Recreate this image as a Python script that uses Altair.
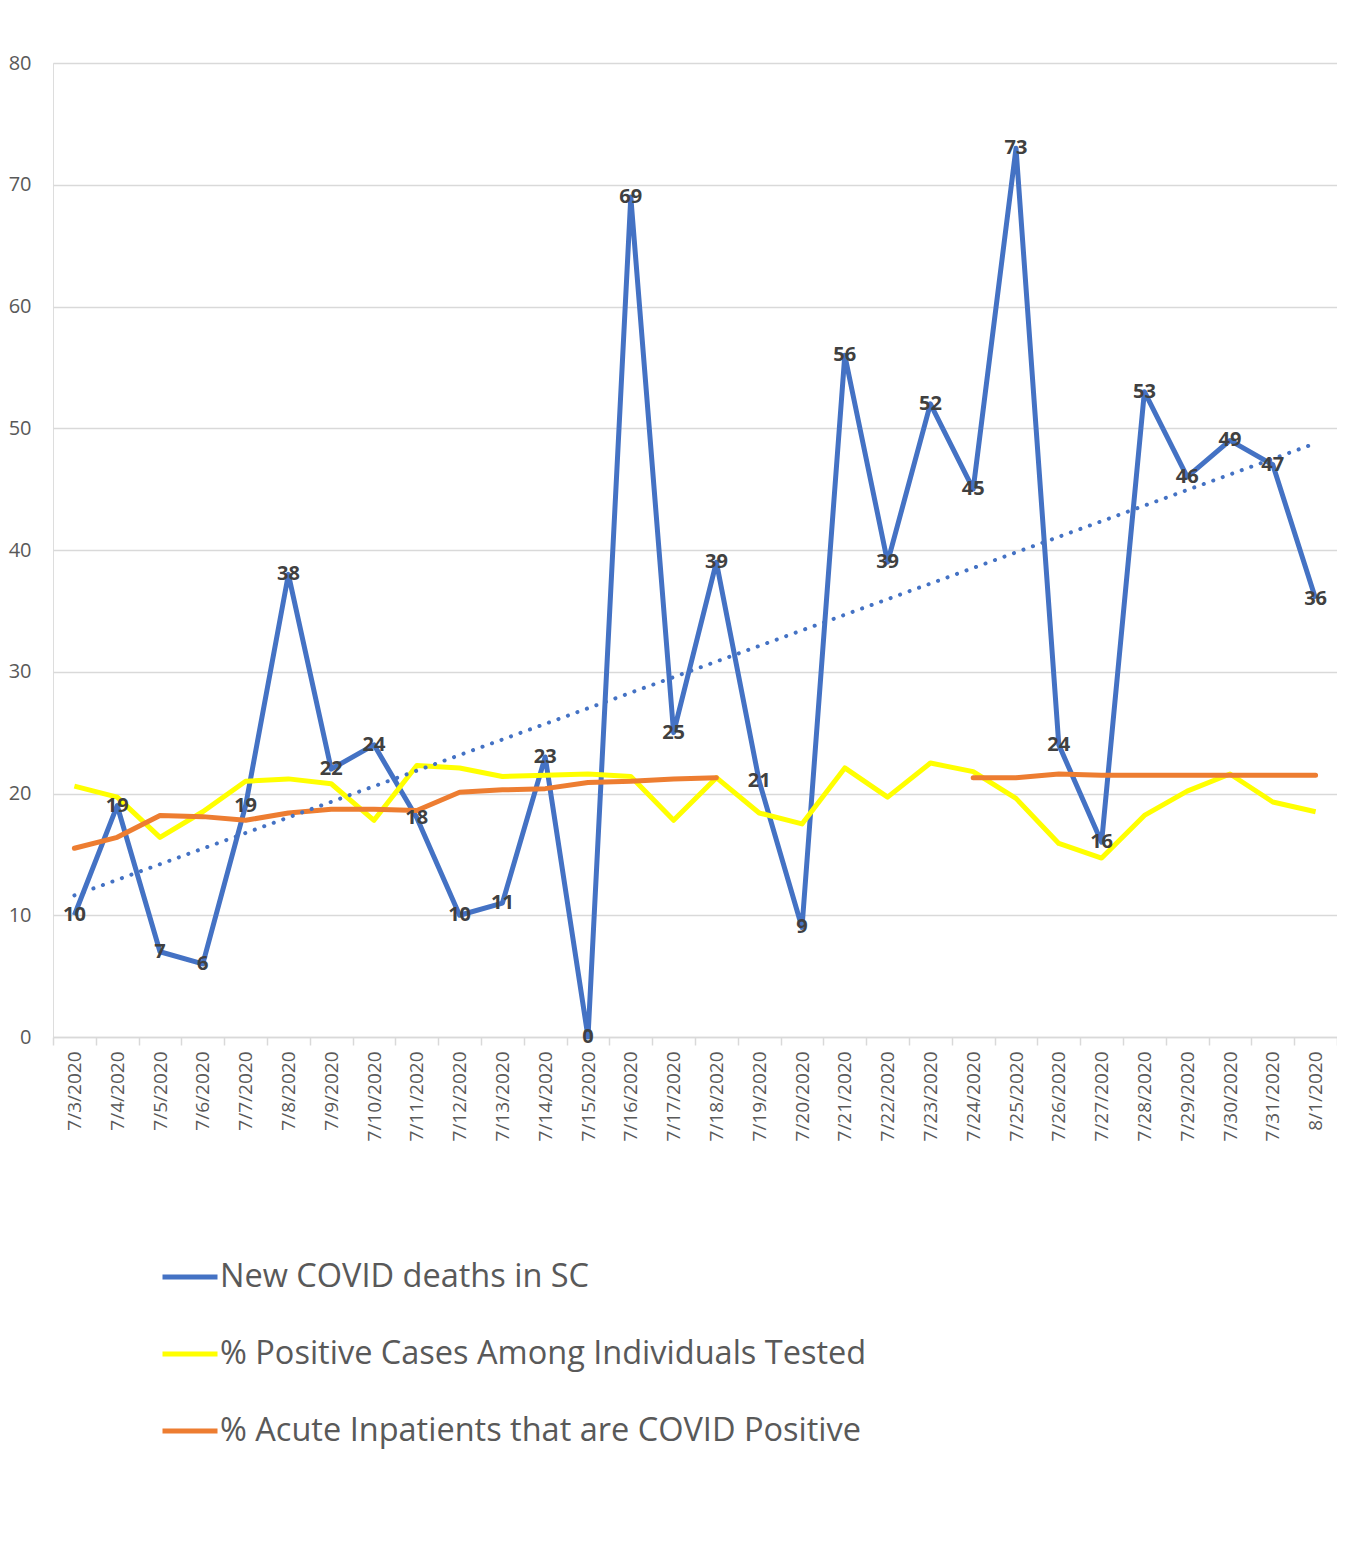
import altair as alt
import pandas as pd
import numpy as np

dates = ["7/3/2020", "7/4/2020", "7/5/2020", "7/6/2020", "7/7/2020", "7/8/2020",
         "7/9/2020", "7/10/2020", "7/11/2020", "7/12/2020", "7/13/2020", "7/14/2020",
         "7/15/2020", "7/16/2020", "7/17/2020", "7/18/2020", "7/19/2020", "7/20/2020",
         "7/21/2020", "7/22/2020", "7/23/2020", "7/24/2020", "7/25/2020", "7/26/2020",
         "7/27/2020", "7/28/2020", "7/29/2020", "7/30/2020", "7/31/2020", "8/1/2020"]

deaths = [10, 19, 7, 6, 19, 38, 22, 24, 18, 10, 11, 23, 0, 69, 25, 39, 21, 9,
          56, 39, 52, 45, 73, 24, 16, 53, 46, 49, 47, 36]

pct_positive = [20.6, 19.7, 16.4, 18.5, 21.0, 21.2, 20.8, 17.8, 22.3, 22.1, 21.4, 21.5,
                21.6, 21.4, 17.8, 21.3, 18.4, 17.5, 22.1, 19.7, 22.5, 21.8, 19.6, 15.9,
                14.7, 18.2, 20.2, 21.6, 19.3, 18.5]

pct_inpatients = [15.5, 16.4, 18.2, 18.1, 17.8, 18.4, 18.7, 18.7, 18.6, 20.1, 20.3, 20.4,
                  20.9, 21.0, 21.2, 21.3, None, None, None, None, None, 21.3, 21.3, 21.6,
                  21.5, 21.5, 21.5, 21.5, 21.5, 21.5]

series_names = ["New COVID deaths in SC",
                "% Positive Cases Among Individuals Tested",
                "% Acute Inpatients that are COVID Positive"]
series_colors = ["#4472C4", "#FFFF00", "#ED7D31"]

# trendline from least squares fit of deaths
idx = np.arange(len(deaths))
slope, intercept = np.polyfit(idx, deaths, 1)
trend = list(intercept + slope * idx)

df_deaths = pd.DataFrame({"date": dates, "value": deaths, "series": series_names[0]})
df_pos = pd.DataFrame({"date": dates, "value": pct_positive, "series": series_names[1]})
seg = []
s = 0
for v in pct_inpatients:
    if v is None:
        s = 1
    seg.append(s)
df_inp = pd.DataFrame({"date": dates, "value": pct_inpatients, "series": series_names[2], "seg": seg})
df_inp = df_inp.dropna()
df_trend = pd.DataFrame({"date": dates, "value": trend})

FONT = "Open Sans"

x_enc = alt.X("date:O", sort=dates, title=None,
              scale=alt.Scale(type="band", paddingInner=0, paddingOuter=0),
              axis=alt.Axis(labelAngle=-90, labelFontSize=19, labelColor="#595959",
                            labelFont=FONT, labelPadding=6,
                            tickBand="extent", tickColor="#D9D9D9", tickSize=8, tickWidth=1.5,
                            domainColor="#D9D9D9", domainWidth=1.5, grid=False))
y_enc = alt.Y("value:Q", title=None,
              scale=alt.Scale(domain=[0, 80], nice=False),
              axis=alt.Axis(values=list(range(0, 81, 10)), labelFontSize=20,
                            labelColor="#595959", labelFont=FONT, labelPadding=22,
                            domain=False, ticks=False, gridColor="#D9D9D9", gridWidth=1.5))
color_enc = alt.Color("series:N", scale=alt.Scale(domain=series_names, range=series_colors),
                      legend=alt.Legend(title=None, orient="none", legendX=107, legendY=1184,
                                        direction="vertical", symbolType="stroke",
                                        symbolStrokeWidth=5, symbolSize=3025,
                                        labelFontSize=32.5, labelFont=FONT, labelColor="#595959",
                                        labelOffset=0, rowPadding=30, labelLimit=1000))

line_deaths = alt.Chart(df_deaths).mark_line(strokeWidth=5, strokeJoin="round").encode(
    x=x_enc, y=y_enc, color=color_enc)
line_pos = alt.Chart(df_pos).mark_line(strokeWidth=5, strokeJoin="round").encode(
    x=x_enc, y=y_enc, color=color_enc)
line_inp = alt.Chart(df_inp).mark_line(strokeWidth=5, strokeJoin="round", strokeCap="round").encode(
    x=x_enc, y=y_enc, color=color_enc, detail="seg:N")
line_trend = alt.Chart(df_trend).mark_line(strokeWidth=4, strokeDash=[0.1, 10],
                                           strokeCap="round", color="#4472C4").encode(
    x=x_enc, y=y_enc)
labels = alt.Chart(df_deaths).mark_text(fontSize=20, fontWeight="bold", font=FONT,
                                        color="#404040").encode(
    x=x_enc, y=y_enc, text="value:Q")

chart = alt.layer(line_deaths, line_pos, line_inp, line_trend, labels).properties(
    width=1284, height=974,
    autosize=alt.AutoSizeParams(type="none"),
    padding={"left": 45, "top": 55, "right": 0, "bottom": 500},
).configure_view(stroke=None).configure(background="white")

chart.save("out.html", embed_options={"renderer": "svg", "actions": False})
